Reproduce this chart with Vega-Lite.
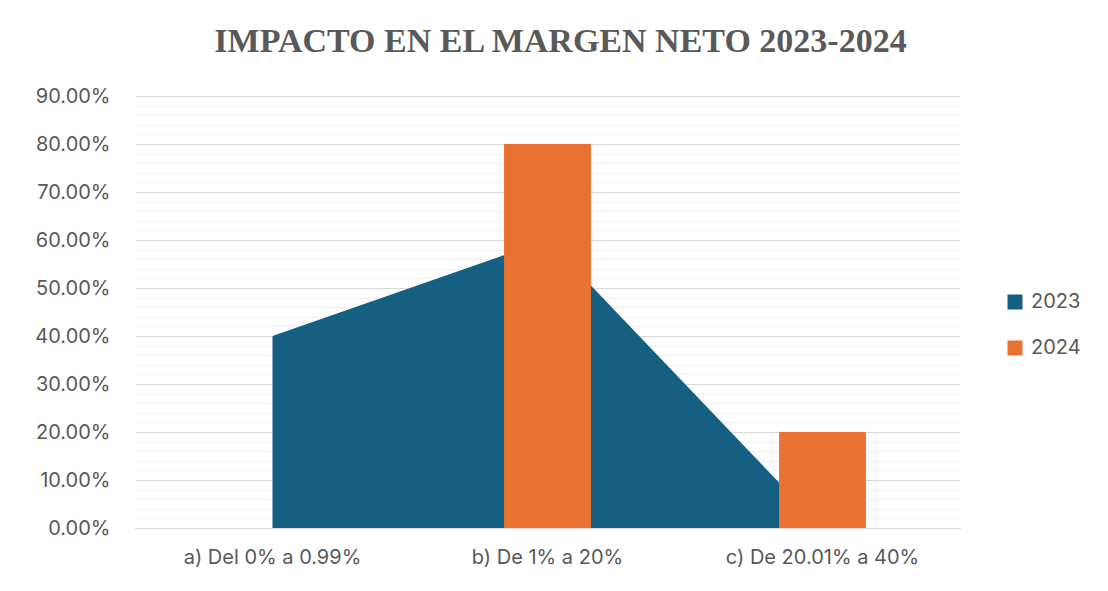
{
  "$schema": "https://vega.github.io/schema/vega-lite/v6.json",
  "width": 825,
  "height": 432,
  "autosize": {"type": "none"},
  "padding": {"left": 135, "top": 96, "right": 148, "bottom": 63},
  "background": "white",
  "config": {"view": {"stroke": null}},
  "title": {
    "text": "IMPACTO EN EL MARGEN NETO 2023-2024",
    "font": "Liberation Serif",
    "fontSize": 34,
    "fontWeight": "bold",
    "color": "#595959",
    "anchor": "middle",
    "dx": 13,
    "offset": 27
  },
  "data": {
    "values": [
      {"categoria": "a) Del 0% a 0.99%", "anio": "2023", "valor": 0.40},
      {"categoria": "b) De 1% a 20%", "anio": "2023", "valor": 0.60},
      {"categoria": "c) De 20.01% a 40%", "anio": "2023", "valor": 0.0},
      {"categoria": "a) Del 0% a 0.99%", "anio": "2024", "valor": 0.0},
      {"categoria": "b) De 1% a 20%", "anio": "2024", "valor": 0.80},
      {"categoria": "c) De 20.01% a 40%", "anio": "2024", "valor": 0.20}
    ]
  },
  "encoding": {
    "x": {
      "field": "categoria",
      "type": "nominal",
      "sort": null,
      "scale": {"type": "band", "paddingInner": 0, "paddingOuter": 0},
      "axis": {
        "title": null,
        "labelAngle": 0,
        "ticks": false,
        "domainColor": "#d9d9d9",
        "labelColor": "#595959",
        "labelFont": "Inter",
        "labelFontSize": 20,
        "labelPadding": 19,
        "labelLimit": 0
      }
    },
    "y": {
      "field": "valor",
      "type": "quantitative",
      "scale": {"domain": [0, 0.9], "nice": false, "zero": true},
      "axis": {
        "title": null,
        "domain": false,
        "ticks": false,
        "values": [0, 0.02, 0.04, 0.06, 0.08, 0.1, 0.12, 0.14, 0.16, 0.18, 0.2, 0.22, 0.24, 0.26, 0.28, 0.3, 0.32, 0.34, 0.36, 0.38, 0.4, 0.42, 0.44, 0.46, 0.48, 0.5, 0.52, 0.54, 0.56, 0.58, 0.6, 0.62, 0.64, 0.66, 0.68, 0.7, 0.72, 0.74, 0.76, 0.78, 0.8, 0.82, 0.84, 0.86, 0.88, 0.9],
        "labelExpr": "round(datum.value*100) % 10 == 0 ? format(datum.value, '.2%') : ''",
        "gridColor": {"condition": {"test": "round(datum.value*100) % 10 == 0", "value": "#d9d9d9"}, "value": "#efefef"},
        "gridWidth": 1,
        "labelColor": "#595959",
        "labelFont": "Inter",
        "labelFontSize": 20,
        "labelPadding": 25
      }
    },
    "color": {
      "field": "anio",
      "type": "nominal",
      "scale": {"domain": ["2023", "2024"], "range": ["#156082", "#E97132"]},
      "legend": {
        "title": null,
        "orient": "none",
        "legendX": 870,
        "legendY": 196,
        "symbolType": "square",
        "symbolSize": 225,
        "symbolStrokeWidth": 0,
        "labelFont": "Inter",
        "labelFontSize": 20,
        "labelColor": "#595959",
        "rowPadding": 26,
        "labelOffset": 6
      }
    }
  },
  "layer": [
    {
      "transform": [{"filter": "datum.anio == '2023'"}],
      "mark": {"type": "area", "opacity": 1},
      "encoding": {"x": {"field": "categoria", "type": "nominal", "sort": null, "bandPosition": 0.5}}
    },
    {
      "transform": [{"filter": "datum.anio == '2024'"}],
      "mark": {"type": "bar", "width": {"band": 0.316}}
    }
  ]
}
